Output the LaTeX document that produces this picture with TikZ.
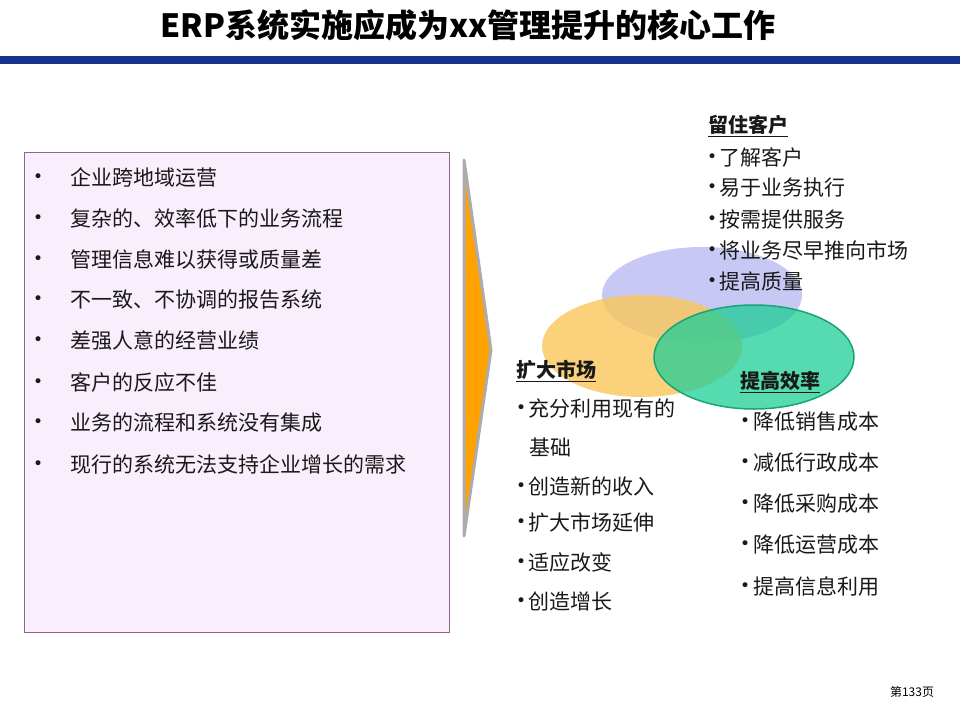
\documentclass[tikz,border=0pt]{standalone}
\usepackage{fontspec}
\setmainfont{Noto Sans CJK SC}
\newfontfamily\bulfont{DejaVu Sans}
\usepackage{xcolor}
\usetikzlibrary{positioning}

\definecolor{barblue}{RGB}{22,52,140}
\definecolor{boxfill}{RGB}{249,238,251}
\definecolor{boxline}{RGB}{140,100,140}
\definecolor{arrorange}{RGB}{255,162,0}
\definecolor{setlav}{RGB}{200,200,245}
\definecolor{setorange}{RGB}{250,198,90}
\definecolor{setgreen}{RGB}{30,205,150}
\definecolor{txt}{RGB}{25,25,25}

\newcommand{\bul}{\raisebox{3pt}{\bulfont\fontsize{17}{17}\selectfont •}}

\tikzset{
  item/.style={anchor=west,inner sep=0pt,text=txt,font=\fontsize{21}{25}\selectfont},
  head/.style={item,font=\bfseries\fontsize{20}{24}\selectfont}
}

\begin{document}
\begin{tikzpicture}[x=1pt,y=-1pt,line cap=round]
  \useasboundingbox (0,0) rectangle (960,720);
  % title and bar
  \node[font=\bfseries\fontsize{32}{32}\selectfont] (title) at (468,25) {ERP系统实施应成为xx管理提升的核心工作};
  \fill[barblue] (0,56) rectangle (960,64);
  % problems box
  \draw[boxline,fill=boxfill] (24,152) rectangle (449,632);
  \foreach \t [count=\i] in {企业跨地域运营, 复杂的、效率低下的业务流程, 管理信息难以获得或质量差,
      不一致、不协调的报告系统, 差强人意的经营业绩, 客户的反应不佳, 业务的流程和系统没有集成,
      现行的系统无法支持企业增长的需求}
    {\node[item] (p\i) at (70,136+41*\i) {\t};
     \node[item,anchor=base west] (bp\i) at (33,0 |- p\i.base) {\bul};}
  % arrow
  \draw[gray!65,line width=3,line join=round,fill=arrorange] (464,160) -- (491,350) -- (464,536) -- cycle;
  % three sets
  \fill[setlav] (702,295) ellipse [x radius=100,y radius=48];
  \fill[setorange,fill opacity=0.8] (642,346) ellipse [x radius=100,y radius=51];
  \draw[setgreen!80!black,line width=1.5,fill=setgreen,fill opacity=0.75] (754,357) ellipse [x radius=100,y radius=52];
  % keep customers
  \node[head] (keep) at (708,126) {\underline{留住客户}};
  \foreach \t [count=\i] in {了解客户, 易于业务执行, 按需提供服务, 将业务尽早推向市场, 提高质量}
    \node[item] (k\i) at (707,126+31*\i) {\bul\hspace{2pt}\t};
  % expand market
  \node[head] (market) at (516,371) {\underline{扩大市场}};
  \node[item] (m1) at (516,409) {\bul\hspace{2pt}充分利用现有的};
  \node[item] (m1b) at (516,447) {\phantom{\bul}\hspace{3pt}基础};
  \foreach \t/\y [count=\i from 2] in {创造新的收入/486, 扩大市场延伸/523, 适应改变/562, 创造增长/601}
    \node[item] (m\i) at (516,\y) {\bul\hspace{2pt}\t};
  % raise efficiency
  \node[head] (eff) at (740,382) {\underline{提高效率}};
  \foreach \t [count=\i] in {降低销售成本, 减低行政成本, 降低采购成本, 降低运营成本, 提高信息利用}
    \node[item] (e\i) at (740,381+41*\i) {\bul\hspace{3pt}\t};
  % page
  \node[font=\fontsize{12}{12}\selectfont] (page) at (912,692) {第133页};
\end{tikzpicture}
\end{document}
